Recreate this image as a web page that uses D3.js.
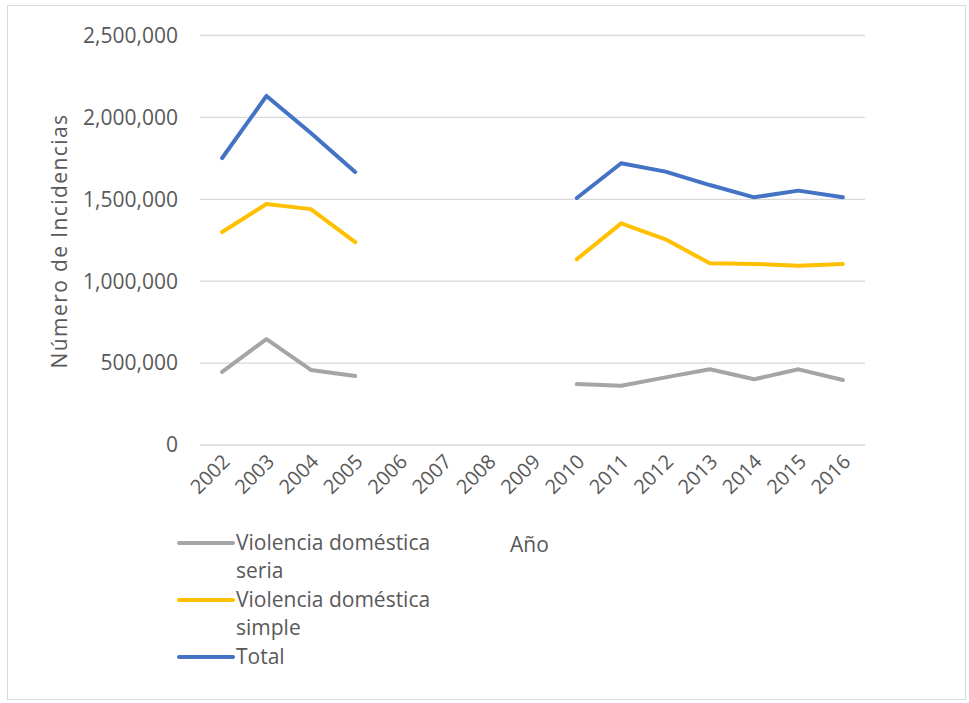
<!DOCTYPE html>
<html lang="es"><head><meta charset="utf-8">
<title>Incidencias de violencia doméstica</title>
<script src="https://cdnjs.cloudflare.com/ajax/libs/d3/7.8.5/d3.min.js"></script>
<style>
  body{ margin:0; background:#fff; }
  .chart-text{ font-family:"Open Sans"; fill:#595959; }
</style>
</head>
<body>
<svg id="chart" width="969" height="703"></svg>
<script>
// datos (null = sin dato)
var years = ["2002","2003","2004","2005","2006","2007","2008","2009","2010","2011","2012","2013","2014","2015","2016"]
var seria  = [446000, 647000, 458000, 421000, null, null, null, null, 372000, 362000, 413000, 462000, 401000, 462000, 397000]
var simple = [1300000, 1471000, 1440000, 1239000, null, null, null, null, 1134000, 1353000, 1256000, 1109000, 1105000, 1095000, 1105000]
var total  = [1752000, 2131000, 1905000, 1667000, null, null, null, null, 1508000, 1720000, 1669000, 1587000, 1512000, 1553000, 1512000]
var yTicks = [0, 500000, 1000000, 1500000, 2000000, 2500000]

var series = [
  {name: ["Violencia doméstica", "seria"], values: seria, color: "#A5A5A5"},
  {name: ["Violencia doméstica", "simple"], values: simple, color: "#FFC000"},
  {name: ["Total"], values: total, color: "#4472C4"}
]

var svg = d3.select("#chart")

// marco
svg.append("rect")
  .attr("x", 7.5).attr("y", 5.5)
  .attr("width", 958).attr("height", 694)
  .attr("fill", "none").attr("stroke", "#D9D9D9")

var x = d3.scaleBand().domain(years).range([200, 865])
var y = d3.scaleLinear().domain([0, 2500000]).range([445, 35.5])

// rejilla
svg.append("g").selectAll("line").data(yTicks).join("line")
  .attr("x1", 200).attr("x2", 865)
  .attr("y1", function(d){ return y(d) }).attr("y2", function(d){ return y(d) })
  .attr("stroke", "#D9D9D9").attr("stroke-width", 1.3)

// etiquetas eje y
svg.append("g").selectAll("text").data(yTicks).join("text")
  .attr("class", "chart-text")
  .attr("x", 178)
  .attr("y", function(d){ return y(d) })
  .attr("dy", "0.35em")
  .attr("text-anchor", "end")
  .attr("font-size", "21px")
  .text(function(d){ return d3.format(",")(d) })

// etiquetas eje x
svg.append("g").selectAll("text").data(years).join("text")
  .attr("class", "chart-text")
  .attr("text-anchor", "end")
  .attr("font-size", "20px")
  .attr("transform", function(d){
    return "translate(" + (x(d) + x.bandwidth()/2 + 9) + ",463) rotate(-45)"
  })
  .text(function(d){ return d })

// titulo eje y
svg.append("text")
  .attr("class", "chart-text")
  .attr("transform", "translate(67,241) rotate(-90)")
  .attr("text-anchor", "middle")
  .attr("font-size", "21px")
  .attr("letter-spacing", "1.4px")
  .text("Número de Incidencias")

// lineas
var line = d3.line()
  .defined(function(d){ return d[1] != null })
  .x(function(d){ return x(d[0]) + x.bandwidth()/2 })
  .y(function(d){ return y(d[1]) })

svg.append("g").selectAll("path").data(series).join("path")
  .attr("fill", "none")
  .attr("stroke", function(d){ return d.color })
  .attr("stroke-width", 4)
  .attr("stroke-linejoin", "round")
  .attr("stroke-linecap", "round")
  .attr("d", function(d){ return line(years.map(function(yr, i){ return [yr, d.values[i]] })) })

// leyenda
var legend = svg.append("g")
var rowY = 543
series.forEach(function(s){
  legend.append("line")
    .attr("x1", 179).attr("x2", 233)
    .attr("y1", rowY).attr("y2", rowY)
    .attr("stroke", s.color).attr("stroke-width", 4)
    .attr("stroke-linecap", "round")
  s.name.forEach(function(t, j){
    legend.append("text")
      .attr("class", "chart-text")
      .attr("x", 236)
      .attr("y", rowY + j * 28)
      .attr("dy", "0.35em")
      .attr("font-size", "21px")
      .text(t)
  })
  rowY += s.name.length * 28.5
})

// titulo eje x
svg.append("text")
  .attr("class", "chart-text")
  .attr("x", 510).attr("y", 545)
  .attr("dy", "0.35em")
  .attr("font-size", "21px")
  .text("Año")
</script>
</body></html>
